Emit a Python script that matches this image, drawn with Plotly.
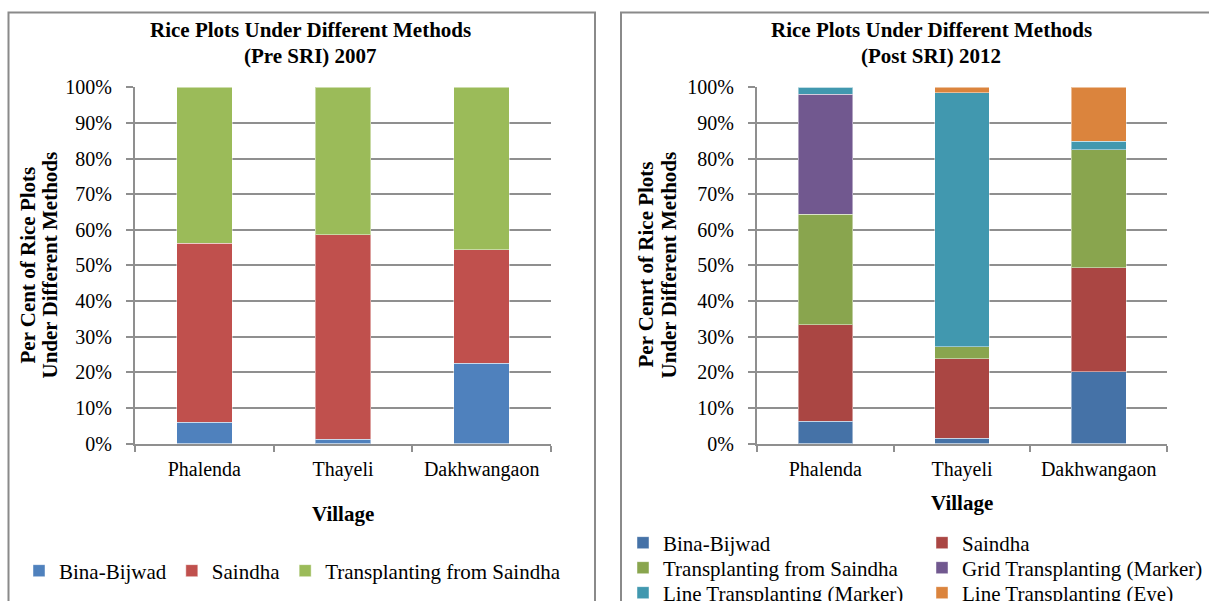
import plotly.graph_objects as go

# ---------------- data ----------------
villages = ["Phalenda", "Thayeli", "Dakhwangaon"]

pre_bina = [5.9, 1.2, 22.6]
pre_saindha = [50.3, 57.4, 31.8]
pre_transplant = [43.8, 41.4, 45.6]

post_bina = [6.3, 1.5, 20.1]
post_saindha = [27.0, 22.3, 29.2]
post_transplant = [31.1, 3.3, 33.1]
post_grid_marker = [33.7, 0.0, 0.0]
post_line_marker = [1.9, 71.4, 2.4]
post_line_eye = [0.0, 1.5, 15.2]

pre_title = ["Rice Plots Under Different Methods", "(Pre SRI) 2007"]
post_title = ["Rice Plots Under Different Methods", "(Post SRI) 2012"]
pre_ytitle = ["Per Cent of Rice Plots", "Under Different Methods"]
post_ytitle = ["Per Cenrt of Rice Plots", "Under Different Methods"]
xtitle = "Village"

# ---------------- layout helpers ----------------
W, H = 1209, 601
FONT = "Liberation Serif"
GRID = "#8f8f8f"


def px(x):
    return x / W


def py(y):
    return 1 - y / H


fig = go.Figure()

pre_series = [
    ("Bina-Bijwad", pre_bina, "#4F81BD"),
    ("Saindha", pre_saindha, "#C0504D"),
    ("Transplanting from Saindha", pre_transplant, "#9BBB59"),
]
for name, vals, col in pre_series:
    fig.add_trace(go.Bar(
        x=villages, y=vals, name=name, marker_color=col,
        marker_line=dict(width=1, color="rgba(255,255,255,0.45)"),
        xaxis="x", yaxis="y", legend="legend", width=0.4,
    ))

post_series = [
    ("Bina-Bijwad", post_bina, "#4572A7", "legend2"),
    ("Saindha", post_saindha, "#AA4643", "legend2"),
    ("Transplanting from Saindha", post_transplant, "#89A54E", "legend3"),
    ("Grid Transplanting (Marker)", post_grid_marker, "#71588F", "legend3"),
    ("Line Transplanting (Marker)", post_line_marker, "#4198AF", "legend4"),
    ("Line Transplanting (Eye)", post_line_eye, "#DB843D", "legend4"),
]
for name, vals, col, lg in post_series:
    fig.add_trace(go.Bar(
        x=villages, y=vals, name=name, marker_color=col,
        marker_line=dict(width=1, color="rgba(255,255,255,0.45)"),
        xaxis="x2", yaxis="y2", legend=lg, width=0.4,
    ))

ydom = [py(443.5), py(87.3)]


def xaxis(domain, anchor):
    return dict(
        domain=domain, anchor=anchor, type="category",
        showline=True, linecolor=GRID, linewidth=2,
        ticks="outside", ticklen=6, tickwidth=2, tickcolor=GRID,
        tickson="boundaries", showgrid=False,
        tickfont=dict(family=FONT, size=20, color="black"),
        ticklabelstandoff=6,
    )


def yaxis(domain, anchor):
    return dict(
        domain=domain, anchor=anchor, range=[0, 100], dtick=10,
        ticksuffix="%", showline=True, linecolor=GRID, linewidth=2,
        ticks="outside", ticklen=7, tickwidth=2, tickcolor=GRID,
        showgrid=True, gridcolor=GRID, gridwidth=2, zeroline=False,
        tickfont=dict(family=FONT, size=20, color="black"),
        ticklabelstandoff=10, fixedrange=True,
    )


legend_common = dict(
    orientation="h", xanchor="left", yanchor="middle",
    font=dict(family=FONT, size=21, color="black"),
    bgcolor="rgba(0,0,0,0)", itemclick=False, itemdoubleclick=False,
    traceorder="normal",
)

fig.update_layout(
    width=W, height=H,
    margin=dict(l=0, r=0, t=0, b=0, autoexpand=False),
    paper_bgcolor="white", plot_bgcolor="white",
    barmode="stack", bargap=0.6,
    xaxis=xaxis([px(135), px(551)], "y"),
    yaxis=yaxis(ydom, "x"),
    xaxis2=xaxis([px(757), px(1167)], "y2"),
    yaxis2=yaxis(ydom, "x2"),
    legend=dict(x=px(19), y=py(571), **legend_common),
    legend2=dict(x=px(623), y=py(543), entrywidth=254, **legend_common),
    legend3=dict(x=px(623), y=py(568), entrywidth=254, **legend_common),
    legend4=dict(x=px(623), y=py(593), entrywidth=254, **legend_common),
    showlegend=True,
)

# panel borders
fig.add_shape(type="rect", xref="paper", yref="paper",
              x0=px(8.5), x1=px(595), y0=py(640), y1=py(12.5),
              line=dict(color="#8a8a8a", width=2), fillcolor="rgba(0,0,0,0)", layer="below")
fig.add_shape(type="rect", xref="paper", yref="paper",
              x0=px(621), x1=px(1240), y0=py(640), y1=py(12.5),
              line=dict(color="#8a8a8a", width=2), fillcolor="rgba(0,0,0,0)", layer="below")

bold21 = dict(family=FONT, size=21, color="black")

# chart titles (two lines each)
for x, lines in [(310.5, pre_title), (931, post_title)]:
    for y, txt in zip([30.5, 55.5], lines):
        fig.add_annotation(text="<b>" + txt + "</b>",
                           xref="paper", yref="paper", x=px(x), y=py(y),
                           xanchor="center", yanchor="middle", showarrow=False,
                           font=bold21)

# y-axis titles (two rotated lines each)
for xs, lines in [((27.5, 49.5), pre_ytitle), ((645.5, 668.5), post_ytitle)]:
    for x, txt in zip(xs, lines):
        fig.add_annotation(text="<b>" + txt + "</b>",
                           xref="paper", yref="paper", x=px(x), y=py(265),
                           xanchor="center", yanchor="middle", showarrow=False,
                           textangle=-90, font=bold21)

# x-axis titles
for x, y in [(343, 514), (962, 503)]:
    fig.add_annotation(text="<b>" + xtitle + "</b>",
                       xref="paper", yref="paper", x=px(x), y=py(y),
                       xanchor="center", yanchor="middle", showarrow=False,
                       font=bold21)

fig.write_html(
    "out.html",
    config={"displayModeBar": False},
    post_script="document.body.style.margin='0';document.body.style.overflow='hidden';",
)
